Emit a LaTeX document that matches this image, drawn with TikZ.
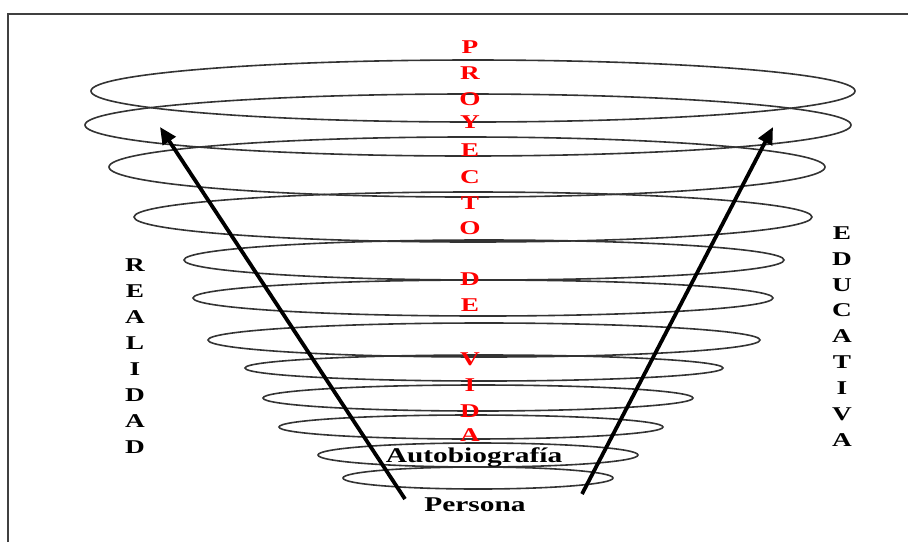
\documentclass[tikz,border=0pt]{standalone}
\usepackage{fontspec}
\setmainfont{Liberation Serif}
\usetikzlibrary{arrows.meta}
\tikzstyle{ring}=[draw=black!80, line width=1.6pt]
\tikzstyle{bigarrow}=[-{Triangle[length=17pt,width=15pt]}, line width=3.8pt]
\tikzstyle{letter}=[inner sep=0pt, font=\fontsize{19.5}{19.5}\selectfont\bfseries, xscale=1.4]
\tikzstyle{redletter}=[letter, text=red]
\tikzstyle{word}=[inner sep=0pt, font=\fontsize{21}{21}\selectfont\bfseries, xscale=1.4]

\begin{document}
\begin{tikzpicture}[x=1pt,y=-1pt]
\useasboundingbox (0,0) rectangle (908,542);
% frame
\draw[line width=1.5pt, black!75] (8,542) -- (8,14) -- (908,14);

% the rings of the cone
\foreach \cx/\cy/\rx/\ry in {473/91/382/31, 468/125/383/31, 467/167/358/30,
    473/217/339/25, 484/260/300/20, 483/298/290/18, 484/340/276/17,
    484/368/239/13, 478/398/215/13, 471/427/192/12, 478/455/160/12,
    478/478/135/11}
  \draw[ring] (\cx,\cy) ellipse ({\rx} and {\ry});

% words in the middle
\node (Autobiografia) [word] at (474,457) {Autobiografía};
\node (Persona) [word] at (475,505) {Persona};

% PROYECTO DE VIDA
\foreach \l/\y [count=\i] in {P/47, R/73, O/99, Y/122, E/150, C/177, T/203, O/228,
    D/279, E/305, V/359, I/385, D/411, A/435}
  \node (Proyecto\i) [redletter] at (470,\y) {\l};

% REALIDAD
\foreach \l [count=\i] in {R,E,A,L,I,D,A,D}
  \node (Realidad\i) [letter] at (135,{239+26*\i}) {\l};

% EDUCATIVA
\foreach \l [count=\i] in {E,D,U,C,A,T,I,V,A}
  \node (Educativa\i) [letter] at (842,{207+25.9*\i}) {\l};

% arrows
\coordinate (LeftFoot) at (405,499);
\coordinate (LeftTip) at (160,127);
\coordinate (RightFoot) at (582,494);
\coordinate (RightTip) at (773,127);
\draw[bigarrow] (LeftFoot) -- (LeftTip);
\draw[bigarrow] (RightFoot) -- (RightTip);
\end{tikzpicture}
\end{document}
